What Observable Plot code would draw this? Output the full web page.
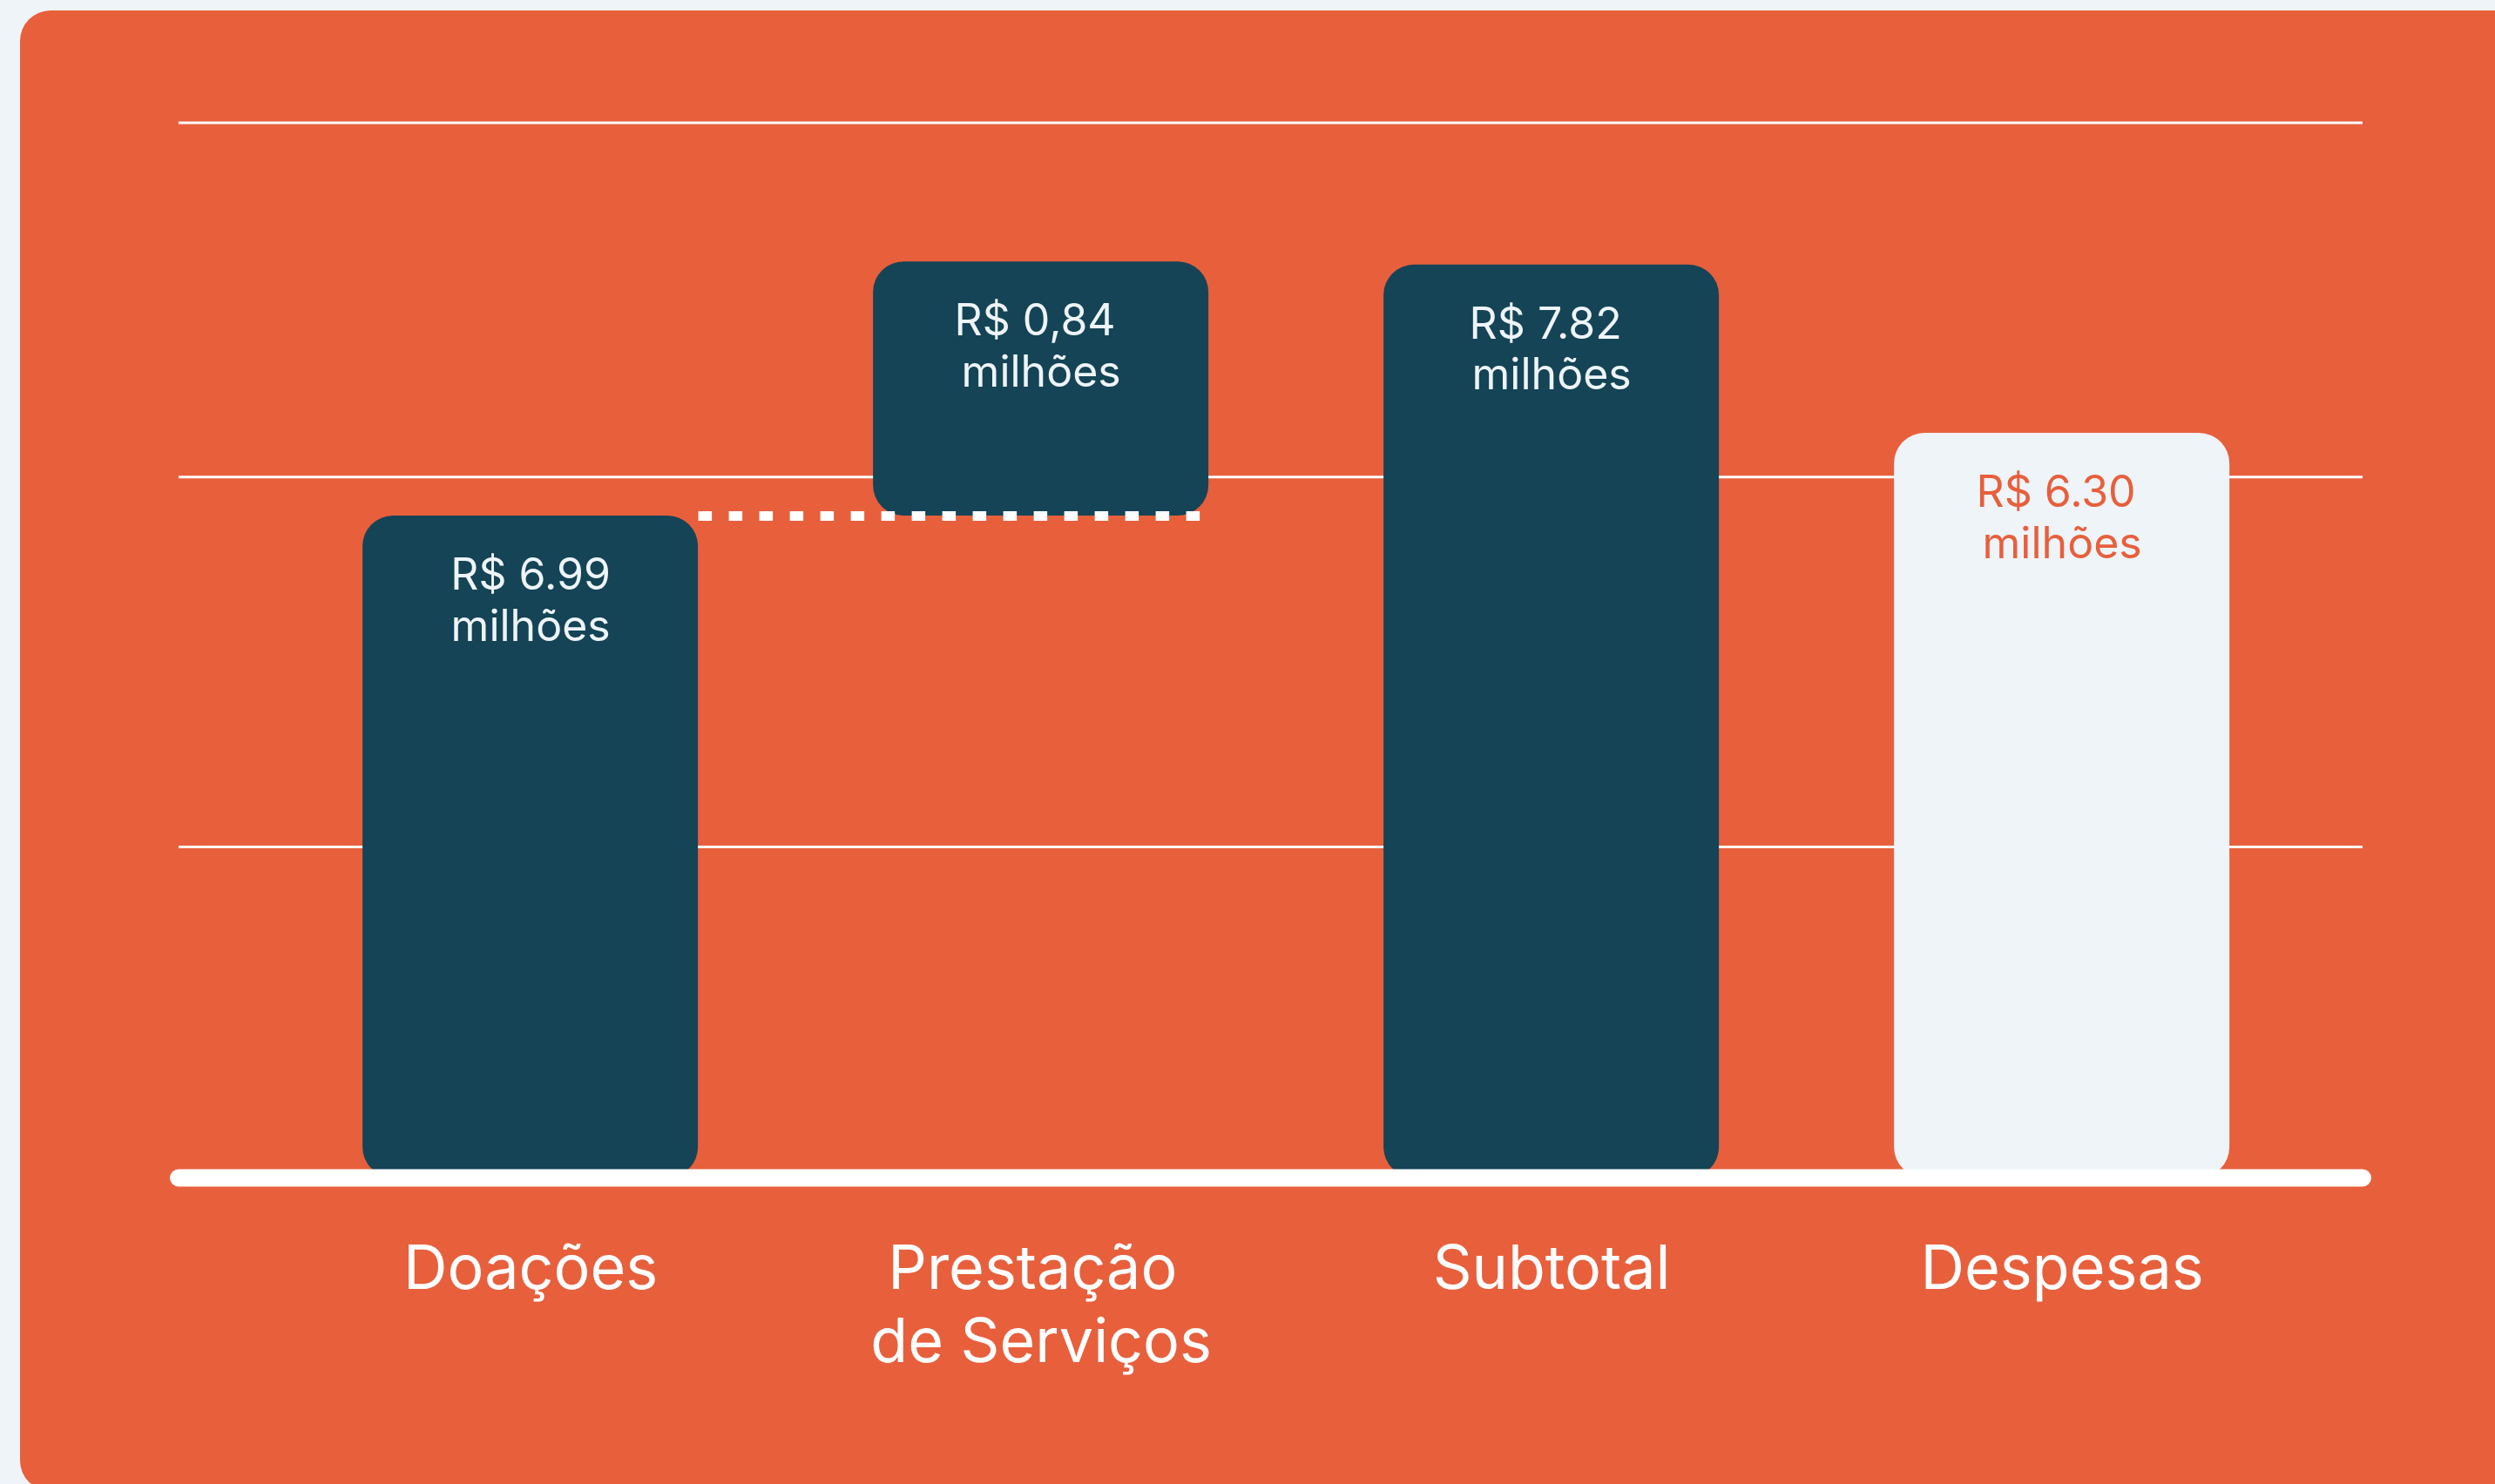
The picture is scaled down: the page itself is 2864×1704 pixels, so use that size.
<!DOCTYPE html>
<html>
<head>
<meta charset="utf-8">
<script src="https://cdn.jsdelivr.net/npm/d3@7"></script>
<script src="https://cdn.jsdelivr.net/npm/@observablehq/plot@0.6"></script>
<style>
  html, body { margin: 0; padding: 0; background: #eef4f8; width: 2864px; height: 1704px; overflow: hidden; }
  #card { position: absolute; left: 23px; top: 12px; width: 2900px; height: 1700px; border-radius: 35px; background: #e85f3c; }
  #chart { position: absolute; left: 0; top: 0; }
  #chart text { white-space: pre; }
</style>
</head>
<body>
<div id="card"></div>
<div id="chart"></div>
<script>
// ---- data ----
const categories = ["Doações", "Prestação de Serviços", "Subtotal", "Despesas"];
const tickLabels = ["Doações", "Prestação \nde Serviços", "Subtotal", "Despesas"];
const values = [6.99, 0.84, 7.82, 6.30];          // R$ milhões
const bases = [0, 6.99, 0, 0];                    // waterfall start of each bar
const kinds = ["income", "income", "income", "expense"];
const valueLabels = ["R$ 6.99", "R$ 0,84 ", "R$ 7.82 ", "R$ 6.30 "];
const unitLabel = "milhões";
const gridValues = [2.8, 5.93, 8.29];

// ---- styling ----
const DARK = "#144456";
const LIGHT = "#eef4f8";
const ORANGE = "#e85f3c";

const bars = categories.map((c, i) => ({
  cat: c,
  y1: bases[i],
  y2: bases[i] + values[i],
  kind: kinds[i],
  label: valueLabels[i] + "\n" + unitLabel
}));
const connector = [{from: categories[0], to: categories[1], level: bases[0] + values[0]}];

const W = 2864, H = 1704;
const mL = 205, mR = 152, mB = 352;
const xOpts = {paddingInner: 0.343, paddingOuter: 0.3106, align: 0.58};
const bw = d3.scaleBand().domain(categories).range([mL, W - mR])
  .paddingInner(xOpts.paddingInner).paddingOuter(xOpts.paddingOuter).align(xOpts.align).bandwidth();

const chart = Plot.plot({
  width: W,
  height: H,
  marginLeft: mL,
  marginRight: mR,
  marginTop: 0,
  marginBottom: mB,
  style: {background: "transparent", fontFamily: "Inter, sans-serif", overflow: "visible"},
  x: {type: "band", domain: categories, round: false, ...xOpts, axis: null},
  y: {type: "linear", domain: [0, 6.30, 6.99, 7.825], range: [1352, 497, 592, 302], axis: null},
  color: {type: "identity"},
  marks: [
    Plot.ruleY(gridValues, {stroke: "white", strokeWidth: 3}),
    Plot.barY(bars, {
      x: "cat", y1: "y1", y2: "y2",
      fill: d => d.kind === "expense" ? LIGHT : DARK,
      rx: 35, ry: 35
    }),
    Plot.link(connector, {
      x1: "from", x2: "to", y1: "level", y2: "level",
      stroke: "white", strokeWidth: 11, strokeDasharray: "15.5,19.5",
      strokeLinecap: "butt", dx: bw / 2
    }),
    Plot.ruleY([0], {stroke: "white", strokeWidth: 20, strokeLinecap: "round"}),
    Plot.text(bars, {
      x: "cat", y: "y2", text: "label",
      fill: d => d.kind === "expense" ? ORANGE : LIGHT,
      fontSize: 50, lineHeight: 1.17, lineAnchor: "top", dy: 43,
      textAnchor: "middle"
    }),
    Plot.axisX({
      tickSize: 0, tickPadding: 68, fontSize: 70, lineHeight: 1.2,
      fill: "white", color: "white", label: null,
      tickFormat: d => tickLabels[categories.indexOf(d)]
    })
  ]
});
document.getElementById("chart").appendChild(chart);
</script>
</body>
</html>
